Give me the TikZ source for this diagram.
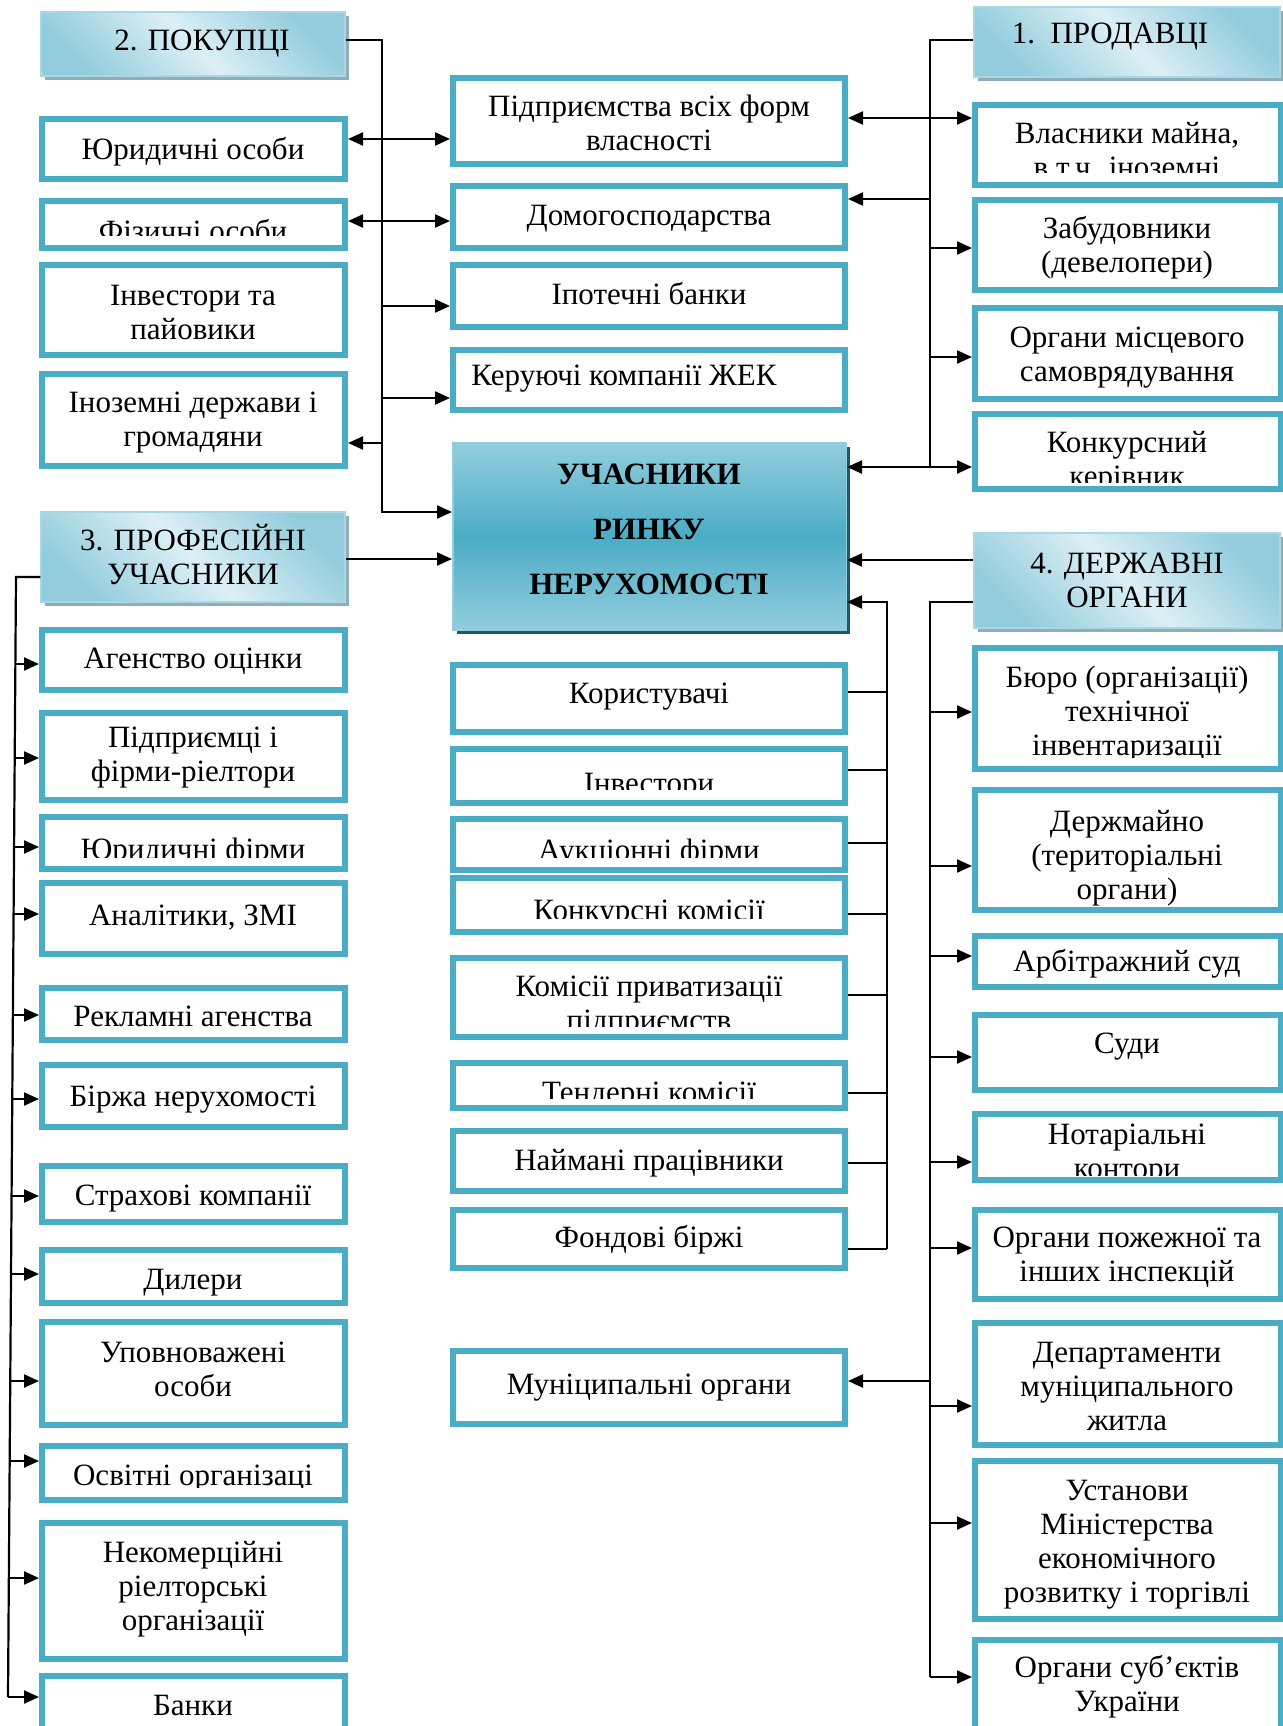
\documentclass[tikz,border=0pt]{standalone}
\usepackage{fontspec}
\setmainfont{Liberation Serif}
\usetikzlibrary{arrows.meta,shadows}
\definecolor{bord}{HTML}{4BACC6}
\definecolor{hdk}{HTML}{93CDDD}
\definecolor{hlt}{HTML}{DCEFF5}
\definecolor{hbd}{HTML}{A9D7E3}
\definecolor{hsh}{HTML}{8FAEB9}
\definecolor{cmid}{HTML}{4BACC6}
\definecolor{csh}{HTML}{1F5868}
\newcommand\ml[1]{\begin{tabular}[t]{@{}c@{}}#1\end{tabular}}
\tikzset{
 bx/.style={draw=bord, line width=6pt, fill=white, rectangle, inner sep=0pt},
 tx/.style={anchor=base, inner sep=0pt, font=\fontsize{31}{34}\selectfont},
 ln/.style={line width=2.2pt, black},
 arr/.style={-{Triangle[length=15pt,width=13pt]}},
 arrb/.style={{Triangle[length=15pt,width=13pt]}-{Triangle[length=15pt,width=13pt]}},
 hd/.style={draw=hbd, line width=1.5pt, rectangle, inner sep=0pt,
   general shadow={fill=hsh, shadow xshift=4pt, shadow yshift=-4pt},
   top color=hdk, bottom color=hdk, middle color=hlt, shading angle=-45},
 cbox/.style={draw=hdk, line width=1.5pt, rectangle, inner sep=0pt,
   general shadow={fill=csh, shadow xshift=4pt, shadow yshift=-4pt},
   top color=hdk, bottom color=hdk, middle color=cmid},
}
% name x1 y1 x2 y2 textx baseline text clipy
\newcommand\bxx[9]{%
  \pgfmathsetmacro\mybw{#4-#2-6}%
  \pgfmathsetmacro\mybh{#5-#3-6}%
  \node[bx, minimum width=\mybw pt, minimum height=\mybh pt] (#1) at ({(#2+#4)/2},{(#3+#5)/2}) {};
  \begin{scope}
    \clip (#2+6,#3+6) rectangle (#4-6,#9);
    \node[tx] (#1t) at (#6,#7) {\ml{#8}};
  \end{scope}}
% name x1 y1 x2 y2 textx baseline text
\newcommand\hdx[8]{%
  \pgfmathsetmacro\mybw{#4-#2}%
  \pgfmathsetmacro\mybh{#5-#3}%
  \node[hd, minimum width=\mybw pt, minimum height=\mybh pt] (#1) at ({(#2+#4)/2},{(#3+#5)/2}) {};
  \node[tx] (#1t) at (#6,#7) {\ml{#8}};}
\begin{document}
\begin{tikzpicture}[x=1pt,y=-1pt]
\fill[white] (0,0) rectangle (1282,1726);
\useasboundingbox (0,0) rectangle (1282,1726);

% ---------- left column
\hdx{h2}{41}{12}{345}{76}{202}{51}{2. ПОКУПЦІ}
\bxx{yur}{39}{116}{348}{182}{193}{159}{Юридичні особи}{176}
\bxx{fiz}{39}{198}{348}{251}{193}{241}{Фізичні особи}{235}
\bxx{inv}{39}{262}{348}{358}{193}{305}{Інвестори та\\пайовики}{352}
\bxx{inoz}{39}{371}{348}{469}{193}{412}{Іноземні держави і\\громадяни}{463}
\hdx{h3}{41}{512}{345}{602}{193}{550}{3. ПРОФЕСІЙНІ\\УЧАСНИКИ}
\bxx{agen}{39}{627}{348}{693}{193}{668}{Агенство оцінки}{687}
\bxx{pidf}{39}{710}{348}{803}{193}{747}{Підприємці і\\фірми-ріелтори}{797}
\bxx{yurf}{39}{814}{348}{872}{193}{859}{Юридичні фірми}{857}
\bxx{anal}{39}{880}{348}{957}{193}{925}{Аналітики, ЗМІ}{951}
\bxx{rekl}{39}{985}{348}{1043}{193}{1026}{Рекламні агенства}{1033}
\bxx{birzh}{39}{1062}{348}{1130}{193}{1106}{Біржа нерухомості}{1124}
\bxx{strakh}{39}{1163}{348}{1225}{193}{1205}{Страхові компанії}{1219}
\bxx{dyl}{39}{1247}{348}{1306}{193}{1289}{Дилери}{1300}
\bxx{upov}{39}{1319}{348}{1428}{193}{1362}{Уповноважені\\особи}{1422}
\bxx{osvit}{39}{1443}{348}{1503}{193}{1485}{Освітні організаці}{1487}
\bxx{nekom}{39}{1520}{348}{1662}{193}{1562}{Некомерційні\\ріелторські\\організації}{1656}
\bxx{bank}{39}{1673}{348}{1745}{193}{1715}{Банки}{1739}

% ---------- middle column
\bxx{pidpr}{450}{75}{848}{167}{649}{117}{Підприємства всіх форм\\власності}{161}
\bxx{domo}{450}{183}{848}{251}{649}{225}{Домогосподарства}{245}
\bxx{ipot}{450}{262}{848}{330}{649}{304}{Іпотечні банки}{324}
\bxx{keru}{450}{347}{848}{413}{624}{385}{Керуючі компанії ЖЕК}{407}
\node[cbox, minimum width=393.5pt, minimum height=187.5pt] (cen) at (649.5,536.5) {};
\node[anchor=base, inner sep=0pt, font=\fontsize{31}{55}\selectfont\bfseries] (cent) at (649,484) {\ml{УЧАСНИКИ\\РИНКУ\\НЕРУХОМОСТІ}};
\bxx{kor}{450}{662}{848}{735}{649}{703}{Користувачі}{729}
\bxx{invm}{450}{746}{848}{806}{649}{793}{Інвестори}{789}
\bxx{auk}{450}{816}{848}{873}{649}{860}{Аукціонні фірми}{857}
\bxx{konkk}{450}{875}{848}{935}{649}{920}{Конкурсні комісії}{918}
\bxx{komp}{450}{955}{848}{1040}{649}{996}{Комісії приватизації\\підприємств}{1026}
\bxx{tend}{450}{1060}{848}{1111}{649}{1102}{Тендерні комісії}{1098}
\bxx{naym}{450}{1128}{848}{1194}{649}{1170}{Наймані працівники}{1188}
\bxx{fond}{450}{1207}{848}{1271}{649}{1247}{Фондові біржі}{1265}
\bxx{munic}{450}{1348}{848}{1427}{649}{1394}{Муніципальні органи}{1421}

% ---------- right column
\hdx{h1}{974}{7}{1280}{77}{1110}{44}{1.\ \ ПРОДАВЦІ}
\bxx{vlas}{972}{102}{1284}{188}{1127}{143}{Власники майна,\\в т.ч. іноземні}{172}
\bxx{zab}{972}{197}{1284}{293}{1127}{238}{Забудовники\\(девелопери)}{287}
\bxx{orgm}{972}{305}{1284}{402}{1127}{347}{Органи місцевого\\самоврядування}{396}
\bxx{konkr}{972}{411}{1284}{492}{1127}{452}{Конкурсний\\керівник}{482}
\hdx{h4}{974}{533}{1280}{628}{1127}{573}{4. ДЕРЖАВНІ\\ОРГАНИ}
\bxx{buro}{972}{645}{1284}{772}{1127}{687}{Бюро (організації)\\технічної\\інвентаризації}{757}
\bxx{dmay}{972}{787}{1284}{913}{1127}{831}{Держмайно\\(територіальні\\органи)}{907}
\bxx{arb}{972}{933}{1284}{990}{1127}{971}{Арбітражний суд}{984}
\bxx{sud}{972}{1012}{1284}{1093}{1127}{1053}{Суди}{1087}
\bxx{notar}{972}{1111}{1284}{1183}{1127}{1144}{Нотаріальні\\контори}{1175}
\bxx{pozh}{972}{1207}{1284}{1302}{1127}{1247}{Органи пожежної та\\інших інспекцій}{1296}
\bxx{dep}{972}{1320}{1284}{1448}{1127}{1362}{Департаменти\\муніципального\\житла}{1442}
\bxx{ust}{972}{1458}{1284}{1622}{1127}{1500}{Установи\\Міністерства\\економічного\\розвитку і торгівлі}{1616}
\bxx{sub}{972}{1637}{1284}{1745}{1127}{1677}{Органи суб’єктів\\України}{1739}

% ---------- bus coordinates
\coordinate (bL) at (382,40);
\coordinate (bR) at (930,40);
\coordinate (bG) at (930,602);
\coordinate (bM) at (887,602);
\coordinate (pT) at (16,577);
\coordinate (pB) at (8,1697);

% left bus (buyers)
\draw[ln,arr] (h2.east |- bL) -- (bL) -- (bL |- 0,512) -- (cen.west |- 0,512);
\draw[ln,arrb] (yur.east |- 0,139) -- (pidpr.west |- 0,139);
\draw[ln,arrb] (fiz.east |- 0,221) -- (domo.west |- 0,221);
\draw[ln,arr] (bL |- 0,306) -- (ipot.west |- 0,306);
\draw[ln,arr] (bL |- 0,398) -- (keru.west |- 0,398);
\draw[ln,arr] (bL |- 0,443) -- (inoz.east |- 0,443);
\draw[ln,arr] (h3.east |- 0,559) -- (cen.west |- 0,559);

% right bus (sellers)
\draw[ln] (h1.west |- bR) -- (bR) -- (bR |- 0,467);
\draw[ln,arrb] (pidpr.east |- 0,118) -- (vlas.west |- 0,118);
\draw[ln,arr] (bR |- 0,199) -- (domo.east |- 0,199);
\draw[ln,arr] (bR |- 0,248) -- (zab.west |- 0,248);
\draw[ln,arr] (bR |- 0,357) -- (orgm.west |- 0,357);
\draw[ln,arrb] (cen.east |- 0,467) -- (konkr.west |- 0,467);

% state bodies
\draw[ln,arr] (h4.west |- 0,560) -- (cen.east |- 0,560);
\draw[ln] (h4.west |- bG) -- (bG) -- (bG |- 0,1677);
\foreach \nm/\yy in {buro/712, dmay/866, arb/956, sud/1057, notar/1162, pozh/1248, dep/1406, ust/1523, sub/1677}
  \draw[ln,arr] (bG |- 0,\yy) -- (\nm.west |- 0,\yy);
\draw[ln,arr] (bG |- 0,1381) -- (munic.east |- 0,1381);

% middle bracket
\draw[ln,arr] (bM |- 0,1249) -- (bM) -- (cen.east |- bM);
\foreach \nm/\yy in {kor/692, invm/770, auk/843, konkk/914, komp/995, tend/1093, naym/1163, fond/1249}
  \draw[ln] (\nm.east |- 0,\yy) -- (bM |- 0,\yy);

% professional participants bus
\draw[ln] (h3.west |- pT) -- (pT) -- (pB);
\foreach \nm/\xx/\yy in {agen/15/664, pidf/15/758, yurf/14/847, anal/14/914, rekl/13/1015, birzh/12/1099, strakh/12/1196, dyl/11/1274, upov/10/1381, osvit/10/1461, nekom/9/1578, bank/8/1697}
  \draw[ln,arr] (\xx,\yy) -- (\nm.west |- 0,\yy);
\end{tikzpicture}
\end{document}
